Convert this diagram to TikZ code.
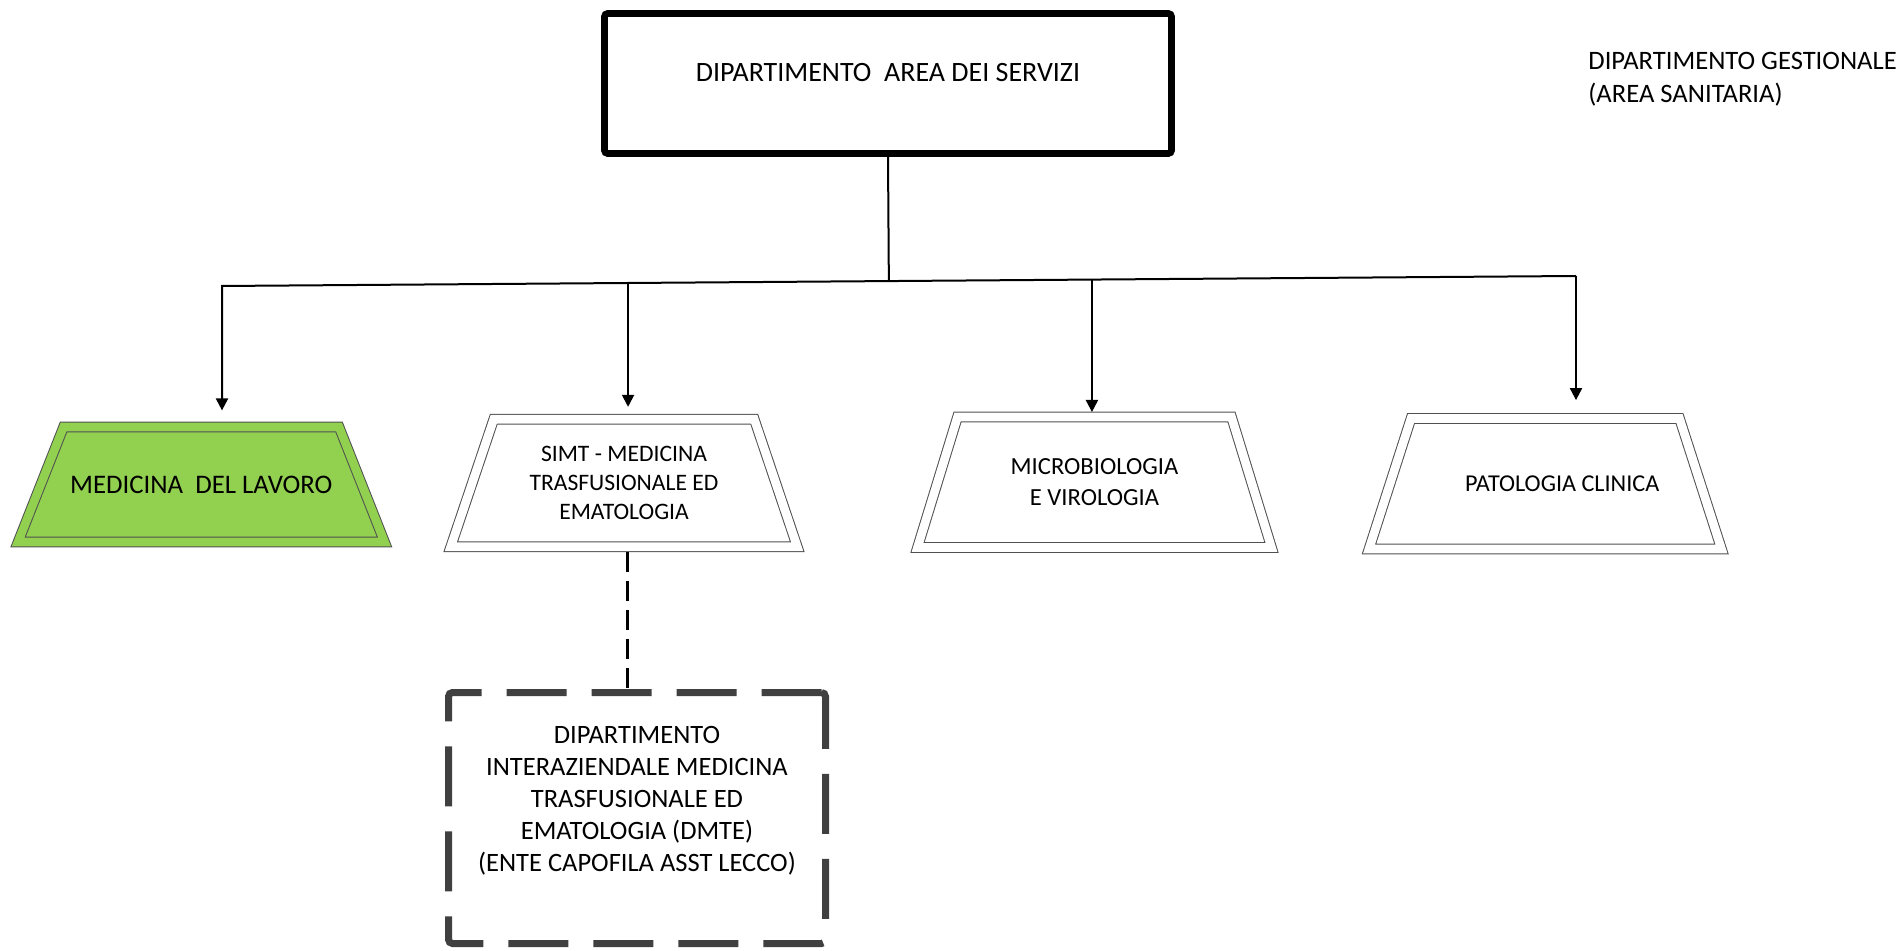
\documentclass[tikz,border=0pt]{standalone}
\usepackage{fontspec}
\setmainfont{Carlito}
\usetikzlibrary{arrows.meta,calc,backgrounds}

\definecolor{lavgreen}{RGB}{146,208,80}
\definecolor{tline}{RGB}{80,80,80}
\definecolor{dgray}{RGB}{64,64,64}

\tikzstyle{dept} = [draw, line width=3.3pt, rounded corners=1.5pt, minimum width=283.5pt, minimum height=70pt, inner sep=0pt]
\tikzstyle{unit} = [rectangle, inner sep=0pt, outer sep=0pt, align=center]
\tikzstyle{frame} = [draw=tline, line width=0.5pt, double, double distance=4.3pt]
\tikzstyle{inter} = [draw=dgray, line width=3.5pt, dash pattern=on 30pt off 12.5pt, rounded corners=2pt, minimum width=188.5pt, minimum height=125.5pt]
\tikzstyle{link} = [line width=1pt]
\tikzstyle{arr} = [link, -{Triangle[width=6pt,length=6pt]}]
\tikzstyle{dlink} = [line width=1.5pt, dash pattern=on 10pt off 4.5pt]

% cornice trapezoidale attorno a un nodo: #2 nome, #3 rientro in alto
\newcommand{\trapframe}[3][]{%
	\draw[frame,#1] ([xshift=#3]#2.north west) -- ([xshift=-#3]#2.north east)
		-- (#2.south east) -- (#2.south west) -- cycle;}

\begin{document}
\begin{tikzpicture}[x=0.5pt,y=-0.5pt]
\useasboundingbox (0,0) rectangle (1901,951);

% capo dipartimento
\node[dept, label={[name=diptxt, yshift=5.25pt, font=\fontsize{14}{17}\selectfont]center:DIPARTIMENTO\ \ AREA DEI SERVIZI}] (dip) at (888,83.5) {};
\node[align=left, anchor=north west, inner sep=0pt, font=\fontsize{13.3}{16.5}\selectfont] (gest) at (1588,52) {DIPARTIMENTO GESTIONALE\\(AREA SANITARIA)};

% strutture
\node[unit, minimum width=183.25pt, minimum height=57.5pt, font=\fontsize{13.4}{16}\selectfont] (lav) at (201.3,484.5) {MEDICINA\ \ DEL LAVORO};
\node[unit, minimum width=173.25pt, minimum height=63.75pt, font=\fontsize{11.8}{14.3}\selectfont] (simt) at (624,483) {SIMT - MEDICINA\\TRASFUSIONALE ED\\EMATOLOGIA};
\node[unit, minimum width=177pt, minimum height=65.25pt, font=\fontsize{12.3}{15.5}\selectfont] (micro) at (1094.5,482.25) {MICROBIOLOGIA\\E VIROLOGIA};
\node[unit, minimum width=176.25pt, minimum height=65.25pt, font=\fontsize{12.1}{15}\selectfont] (pat) at (1545.25,483.75) {\hspace*{17pt}PATOLOGIA CLINICA};

\begin{scope}[on background layer]
\trapframe[fill=lavgreen, double=lavgreen]{lav}{22.75pt}
\trapframe{simt}{21.5pt}
\trapframe{micro}{20pt}
\trapframe{pat}{21pt}
\end{scope}

\node[inter, label={[name=dmtetxt, align=center, yshift=8.5pt, font=\fontsize{13.25}{16}\selectfont]center:DIPARTIMENTO\\INTERAZIENDALE MEDICINA\\TRASFUSIONALE ED\\EMATOLOGIA (DMTE)\\(ENTE CAPOFILA ASST LECCO)}] (dmte) at (637,818) {};

% collegamenti
\coordinate (b1) at (222,286);
\coordinate (b4) at (1576,276);
\coordinate (b2) at ($(b1)!0.2999!(b4)$);
\coordinate (b3) at ($(b1)!0.6425!(b4)$);

\draw[link] (dip.south) -- ($(b1)!(dip.south)!(b4)$);
\draw[arr, shorten >=8.3pt] (b4) -- (b1) -- (b1 |- lav.north);
\draw[arr, shorten >=6.2pt] (b2) -- (b2 |- simt.north);
\draw[arr, shorten >=2.5pt] (b3) -- (b3 |- micro.north);
\draw[arr, shorten >=9.2pt] (b4) -- (b4 |- pat.north);

\draw[dlink, shorten <=2.5pt] ([xshift=1.5pt]simt.south) -- ([xshift=1.5pt]simt.south |- dmte.north);
\end{tikzpicture}
\end{document}
